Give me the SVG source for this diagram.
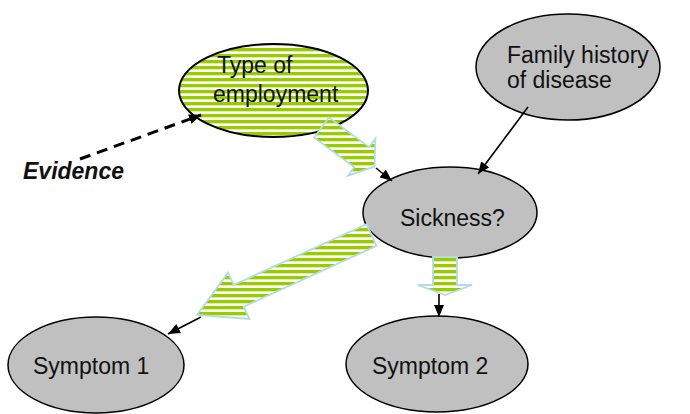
<svg xmlns="http://www.w3.org/2000/svg" width="690" height="414" viewBox="0 0 690 414">
  <style>
    .node { fill: #c0c0c0; stroke: #000; stroke-width: 1.5; }
    .striped { fill: url(#stripes); stroke: #000; stroke-width: 2; }
    .label { font-family: "Liberation Sans", Arial, sans-serif; font-size: 23px; fill: #111; }
    .evidence { font-family: "Liberation Sans", Arial, sans-serif; font-size: 23px; font-weight: bold; font-style: italic; fill: #111; }
    .link { fill: none; stroke: #000; stroke-width: 1.6; marker-end: url(#head); }
    .dashed { fill: none; stroke: #000; stroke-width: 3; stroke-dasharray: 11 7; marker-end: url(#head); }
    .flow { fill: url(#stripes); stroke: #b4dce6; stroke-width: 1.8; stroke-linejoin: miter; }
  </style>
  <defs>
    <!-- horizontal green/white banding shared by the highlighted node and the flow arrows -->
    <pattern id="stripes" patternUnits="userSpaceOnUse" width="8" height="6">
      <rect x="0" y="0" width="8" height="6" fill="#ffffff"/>
      <rect x="0" y="0" width="8" height="3" fill="#99cc00"/>
      <rect x="0" y="3" width="8" height="0.8" fill="#d6eb8c"/>
    </pattern>
    <marker id="head" markerUnits="userSpaceOnUse" markerWidth="12" markerHeight="10" refX="12" refY="5" orient="auto">
      <path d="M0,0 L12,5 L0,10 z" fill="#000"/>
    </marker>
  </defs>

  <!-- nodes -->
  <g id="node-employment">
    <ellipse class="striped" cx="273.5" cy="90.5" rx="94.5" ry="46.5"/>
    <text class="label" x="217" y="73">Type of</text>
    <text class="label" x="213" y="102">employment</text>
  </g>
  <g id="node-family">
    <ellipse class="node" cx="568" cy="67" rx="92" ry="53"/>
    <text class="label" x="507" y="63">Family history</text>
    <text class="label" x="507" y="88">of disease</text>
  </g>
  <g id="node-sickness">
    <ellipse class="node" cx="450" cy="212.5" rx="87" ry="45.5"/>
    <text class="label" x="400" y="226">Sickness?</text>
  </g>
  <g id="node-symptom1">
    <ellipse class="node" cx="96" cy="365" rx="88" ry="48"/>
    <text class="label" x="33" y="374">Symptom 1</text>
  </g>
  <g id="node-symptom2">
    <ellipse class="node" cx="437" cy="364" rx="91" ry="48"/>
    <text class="label" x="372" y="374">Symptom 2</text>
  </g>
  <g id="node-evidence">
    <text class="evidence" x="23" y="179">Evidence</text>
  </g>

  <!-- connectors -->
  <g id="connectors">
    <path class="dashed" d="M80,159 L201,115"/>
    <path class="link" d="M376,168 L392,181"/>
    <path class="link" d="M528,107 L478,174"/>
    <path class="link" d="M201,317 L168,334"/>
    <path class="link" d="M439,294 L439,317"/>

    <!-- striped flow arrows (absolute coordinates so the banding stays horizontal) -->
    <path class="flow" d="M328.9,117.4 L369.2,147.1 L375.4,138.7 L374.6,166.7 L348.1,175.7 L354.3,167.2 L314.1,137.6 z"/>
    <path class="flow" d="M376.5,245.9 L243.7,306.7 L249.4,319.0 L196.9,314.9 L228.1,272.6 L233.7,284.9 L366.5,224.1 z"/>
    <path class="flow" d="M457,257 L457,285 L472,285 L445,295 L418,285 L433,285 L433,257 z"/>
  </g>
</svg>
